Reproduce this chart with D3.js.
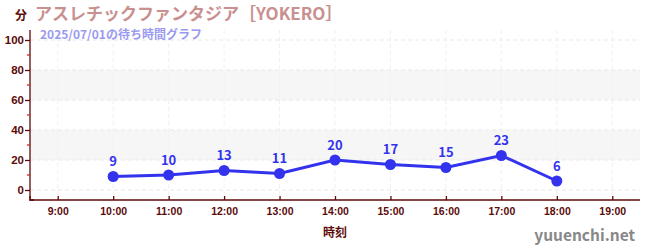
<!DOCTYPE html>
<html>
<head>
<meta charset="utf-8">
<script src="https://cdn.jsdelivr.net/npm/d3@7"></script>
<style>
  body { margin: 0; background: #fff; }
  svg { font-family: "Noto Sans CJK JP", "Noto Sans", sans-serif; }
</style>
</head>
<body>
<div id="chart"></div>
<script>
// wait-time data (minutes) by hour
var hours = [10, 11, 12, 13, 14, 15, 16, 17, 18];
var waits = [9, 10, 13, 11, 20, 17, 15, 23, 6];
var hourTicks = [9, 10, 11, 12, 13, 14, 15, 16, 17, 18, 19];
var yTicks = [0, 20, 40, 60, 80, 100];
var yMinorTicks = [10, 30, 50, 70, 90];
var bands = [[20, 40], [60, 80]];

var titleText = "アスレチックファンタジア［YOKERO］";
var subText = "2025/07/01の待ち時間グラフ";

var width = 650, height = 250;
var axisColor = "#5c0a0a";
var lineColor = "#3333ee";

var x = d3.scaleLinear().domain([8.5, 19.5]).range([30, 640]);
var y = d3.scaleLinear().domain([-6.67, 106.67]).range([200, 30]);

var svg = d3.select("#chart").append("svg")
    .attr("width", width)
    .attr("height", height);

// alternating bands
svg.selectAll(".band")
    .data(bands)
  .enter().append("rect")
    .attr("x", x(8.5))
    .attr("width", x(19.5) - x(8.5))
    .attr("y", function(d) { return y(d[1]); })
    .attr("height", function(d) { return y(d[0]) - y(d[1]); })
    .style("fill", "#f6f6f6");

// grid
svg.selectAll(".hgrid")
    .data(yTicks)
  .enter().append("line")
    .attr("x1", x(8.5)).attr("x2", x(19.5))
    .attr("y1", function(d) { return y(d); })
    .attr("y2", function(d) { return y(d); })
    .style("stroke", "#e8e8e8")
    .style("stroke-dasharray", "4,3");

svg.selectAll(".vgrid")
    .data(hourTicks)
  .enter().append("line")
    .attr("x1", function(d) { return x(d); })
    .attr("x2", function(d) { return x(d); })
    .attr("y1", y(106.67)).attr("y2", y(-6.67))
    .style("stroke", "#f0f0f0")
    .style("stroke-dasharray", "4,3");

// axes
var xAxis = d3.axisBottom(x)
    .tickValues(hourTicks)
    .tickSize(4)
    .tickFormat(function(d) { return d + ":00"; });

var yAxis = d3.axisLeft(y)
    .tickValues(yTicks)
    .tickSize(5);

var gx = svg.append("g")
    .attr("transform", "translate(0," + y(-6.67) + ")")
    .call(xAxis);
gx.select(".domain").attr("d", "M" + x(8.5) + ",-4V0H" + x(19.5));
gx.selectAll(".tick line").attr("y1", -4).attr("y2", 0);
gx.selectAll("text")
    .attr("y", 8)
    .style("font-size", "10.5px")
    .style("font-weight", "bold");

var gy = svg.append("g")
    .attr("transform", "translate(" + x(8.5) + ",0)")
    .call(yAxis);
gy.select(".domain").attr("d", "M0," + y(106.67) + "V" + y(-6.67) + "H4");
gy.selectAll("text")
    .attr("x", -6)
    .style("font-size", "11.5px")
    .style("font-weight", "bold");

svg.selectAll(".domain, .tick line").style("stroke", axisColor).style("stroke-width", 1.3);
svg.selectAll(".tick text").style("fill", axisColor);

svg.selectAll(".minor")
    .data(yMinorTicks)
  .enter().append("line")
    .attr("x1", x(8.5) - 3).attr("x2", x(8.5))
    .attr("y1", function(d) { return y(d); })
    .attr("y2", function(d) { return y(d); })
    .style("stroke", "#dd2222")
    .style("stroke-width", 1.3);

// line + points
var pts = hours.map(function(h, i) { return {h: h, v: waits[i]}; });

svg.append("path")
    .datum(pts)
    .attr("d", d3.line()
        .x(function(d) { return x(d.h); })
        .y(function(d) { return y(d.v); }))
    .style("fill", "none")
    .style("stroke", lineColor)
    .style("stroke-width", 3);

svg.selectAll(".dot")
    .data(pts)
  .enter().append("circle")
    .attr("cx", function(d) { return x(d.h); })
    .attr("cy", function(d) { return y(d.v); })
    .attr("r", 5.5)
    .style("fill", lineColor);

svg.selectAll(".lbl")
    .data(pts)
  .enter().append("text")
    .attr("x", function(d) { return x(d.h); })
    .attr("y", function(d) { return y(d.v) - 10; })
    .attr("text-anchor", "middle")
    .style("font-size", "13px")
    .style("font-weight", "bold")
    .style("fill", lineColor)
    .text(function(d) { return d.v; });

// titles
svg.append("text")
    .attr("x", 15).attr("y", 19.5)
    .style("font-size", "12px")
    .style("font-weight", "bold")
    .style("fill", axisColor)
    .text("分");

svg.append("text")
    .attr("x", 35).attr("y", 19.5)
    .style("font-size", "17px")
    .style("font-weight", "bold")
    .style("fill", "#c99090")
    .text(titleText);

svg.append("text")
    .attr("x", 40).attr("y", 38.5)
    .style("font-size", "12px")
    .style("font-weight", "bold")
    .style("fill", "#9a9af0")
    .text(subText);

svg.append("text")
    .attr("x", x(14)).attr("y", 237)
    .attr("text-anchor", "middle")
    .style("font-size", "12px")
    .style("font-weight", "bold")
    .style("fill", axisColor)
    .text("時刻");

svg.append("text")
    .attr("x", 635).attr("y", 241)
    .attr("text-anchor", "end")
    .style("font-size", "15.5px")
    .style("font-weight", "bold")
    .style("fill", "#888")
    .text("yuuenchi.net");
</script>
</body>
</html>
